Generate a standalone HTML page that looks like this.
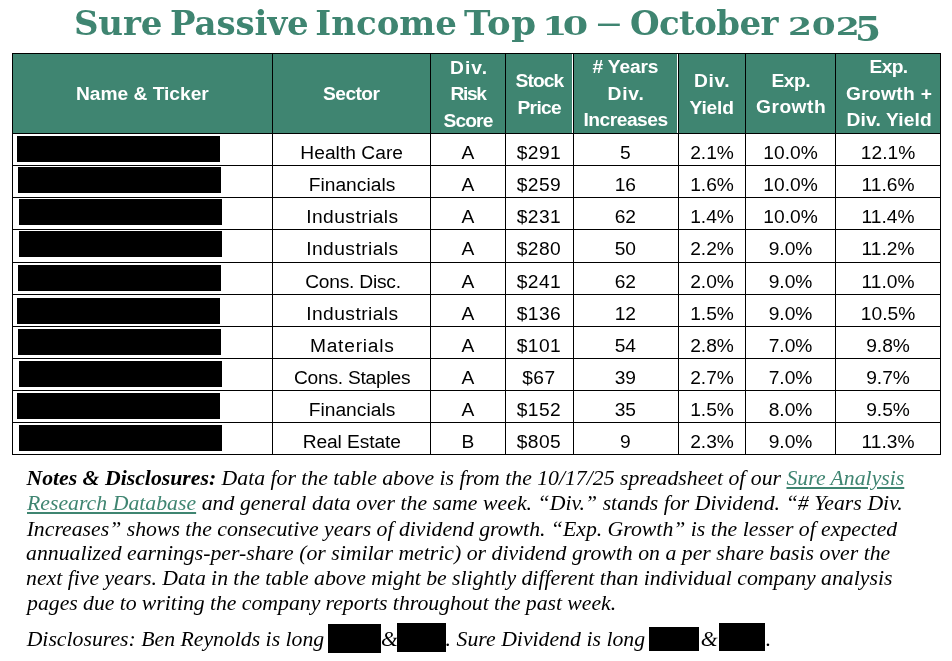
<!DOCTYPE html>
<html lang="en"><head><meta charset="utf-8"><title>Sure Passive Income Top 10</title>
<style>
html,body{margin:0;padding:0;background:#fff;}
body{width:952px;height:661px;position:relative;overflow:hidden;font-family:"Liberation Sans",sans-serif;color:#000;}
#page{position:absolute;left:0;top:0;width:952px;height:661px;overflow:hidden;will-change:transform;}
.abs{position:absolute;}
.ln{position:absolute;background:#000;}
.tw{position:absolute;white-space:nowrap;color:#3f8571;font-family:"DejaVu Serif","Liberation Serif",serif;font-weight:bold;font-size:34.0px;line-height:40px;height:40px;}
.th{position:absolute;color:#fff;font-weight:bold;font-size:19.2px;line-height:26px;height:26px;white-space:nowrap;}
.td{position:absolute;font-size:19.2px;line-height:32px;height:32px;text-align:center;white-space:nowrap;}
.bar{position:absolute;background:#000;width:203px;height:26px;}
.nl{position:absolute;left:27px;font-family:"Liberation Serif",serif;font-style:italic;font-size:21.75px;line-height:24.87px;height:24.87px;white-space:nowrap;}
.nl a{color:#3f8571;text-decoration:underline;}
.rb{position:absolute;background:#000;}
.g{display:inline-block;}

</style></head><body><div id="page">
<div class="tw" id="t0" style="left:74.00px;top:2.85px;letter-spacing:-0.180px;">Sure</div>
<div class="tw" id="t1" style="left:170.00px;top:2.85px;letter-spacing:-0.090px;">Passive</div>
<div class="tw" id="t2" style="left:315.30px;top:2.85px;letter-spacing:0.018px;">Income</div>
<div class="tw" id="t3" style="left:464.10px;top:2.85px;letter-spacing:0.600px;transform-origin:0 31.95px;transform:translateY(0.00px) scale(1.0463,1.0000);">Top</div>
<div class="tw" id="t4" style="left:542.30px;top:2.85px;letter-spacing:-4.320px;transform-origin:0 31.95px;transform:translateY(0.00px) scale(1.0745,0.7500);">10</div>
<div class="tw" id="t5" style="left:595.00px;top:2.85px;letter-spacing:0.000px;transform-origin:0 31.95px;transform:translateY(-5.20px) scale(1.6344,0.6200);">–</div>
<div class="tw" id="t6" style="left:630.00px;top:2.85px;letter-spacing:-0.600px;">October</div>
<div class="tw" id="t7" style="left:787.60px;top:2.85px;letter-spacing:-0.180px;transform-origin:0 31.95px;transform:translateY(0.00px) scale(1.0147,0.7300);">202</div>
<div class="tw" id="t8" style="left:855.20px;top:2.85px;letter-spacing:0.000px;transform-origin:0 31.95px;transform:translateY(6.00px) scale(1.1033,1.0000);">5</div>
<div class="abs" style="left:12px;top:53px;width:929px;height:81px;background:#3f8571;"></div>
<div class="ln" style="left:12px;top:53px;width:929px;height:1px;"></div>
<div class="ln" style="left:12px;top:133px;width:929px;height:1px;"></div>
<div class="ln" style="left:12px;top:165px;width:929px;height:1px;"></div>
<div class="ln" style="left:12px;top:197px;width:929px;height:1px;"></div>
<div class="ln" style="left:12px;top:229px;width:929px;height:1px;"></div>
<div class="ln" style="left:12px;top:262px;width:929px;height:1px;"></div>
<div class="ln" style="left:12px;top:294px;width:929px;height:1px;"></div>
<div class="ln" style="left:12px;top:326px;width:929px;height:1px;"></div>
<div class="ln" style="left:12px;top:358px;width:929px;height:1px;"></div>
<div class="ln" style="left:12px;top:390px;width:929px;height:1px;"></div>
<div class="ln" style="left:12px;top:422px;width:929px;height:1px;"></div>
<div class="ln" style="left:12px;top:454px;width:929px;height:1px;"></div>
<div class="ln" style="left:12px;top:53px;width:1px;height:402px;"></div>
<div class="ln" style="left:272px;top:53px;width:1px;height:402px;"></div>
<div class="ln" style="left:430px;top:53px;width:1px;height:402px;"></div>
<div class="ln" style="left:505px;top:53px;width:1px;height:402px;"></div>
<div class="ln" style="left:573px;top:53px;width:1px;height:402px;"></div>
<div class="ln" style="left:678px;top:53px;width:1px;height:402px;"></div>
<div class="ln" style="left:745px;top:53px;width:1px;height:402px;"></div>
<div class="ln" style="left:835px;top:53px;width:1px;height:402px;"></div>
<div class="ln" style="left:940px;top:53px;width:1px;height:402px;"></div>
<div class="abs" style="left:572px;top:54px;width:1px;height:79px;background:#fff;"></div>
<div class="abs" style="left:677px;top:54px;width:1px;height:79px;background:#fff;"></div>
<div class="th" id="h0_0" style="left:76.00px;top:81.35px;letter-spacing:-0.015px;">Name &amp; Ticker</div>
<div class="th" id="h1_0" style="left:323.00px;top:81.35px;letter-spacing:-0.540px;">Sector</div>
<div class="th" id="h2_0" style="left:450.00px;top:55.15px;letter-spacing:1.080px;">Div.</div>
<div class="th" id="h2_1" style="left:450.50px;top:80.65px;letter-spacing:-1.380px;">Risk</div>
<div class="th" id="h2_2" style="left:443.50px;top:108.05px;letter-spacing:-0.855px;">Score</div>
<div class="th" id="h3_0" style="left:515.50px;top:68.05px;letter-spacing:-0.900px;">Stock</div>
<div class="th" id="h3_1" style="left:517.50px;top:95.05px;letter-spacing:-0.675px;">Price</div>
<div class="th" id="h4_0" style="left:592.50px;top:53.85px;letter-spacing:-0.150px;"># Years</div>
<div class="th" id="h4_1" style="left:607.50px;top:80.75px;letter-spacing:0.840px;">Div.</div>
<div class="th" id="h4_2" style="left:583.50px;top:106.75px;letter-spacing:-0.495px;">Increases</div>
<div class="th" id="h5_0" style="left:694.00px;top:68.15px;letter-spacing:0.600px;">Div.</div>
<div class="th" id="h5_1" style="left:689.50px;top:94.95px;letter-spacing:-0.180px;">Yield</div>
<div class="th" id="h6_0" style="left:771.50px;top:67.95px;letter-spacing:-0.480px;">Exp.</div>
<div class="th" id="h6_1" style="left:756.00px;top:93.65px;letter-spacing:0.504px;">Growth</div>
<div class="th" id="h7_0" style="left:869.50px;top:53.85px;letter-spacing:-0.660px;">Exp.</div>
<div class="th" id="h7_1" style="left:846.00px;top:80.75px;letter-spacing:0.309px;">Growth +</div>
<div class="th" id="h7_2" style="left:846.50px;top:106.55px;letter-spacing:0.160px;">Div. Yield</div>
<div class="bar" style="left:17px;top:136px;"></div>
<div class="td" id="c0_0" style="left:273.20px;width:157px;top:137.35px;letter-spacing:0.036px;">Health Care</div>
<div class="td" id="c0_1" style="left:431.00px;width:74px;top:137.35px;letter-spacing:0.000px;">A</div>
<div class="td" id="c0_2" style="left:505.40px;width:67px;top:137.35px;letter-spacing:0.400px;">$291</div>
<div class="td" id="c0_3" style="left:573.30px;width:104px;top:137.35px;letter-spacing:0.000px;">5</div>
<div class="td" id="c0_4" style="left:679.00px;width:66px;top:137.35px;letter-spacing:0.000px;">2.1%</div>
<div class="td" id="c0_5" style="left:746.00px;width:89px;top:137.35px;letter-spacing:0.000px;">10.0%</div>
<div class="td" id="c0_6" style="left:836.00px;width:104px;top:137.35px;letter-spacing:0.000px;">12.1%</div>
<div class="bar" style="left:18px;top:167px;"></div>
<div class="td" id="c1_0" style="left:273.50px;width:157px;top:169.35px;letter-spacing:0.020px;">Financials</div>
<div class="td" id="c1_1" style="left:431.00px;width:74px;top:169.35px;letter-spacing:0.000px;">A</div>
<div class="td" id="c1_2" style="left:505.40px;width:67px;top:169.35px;letter-spacing:0.400px;">$259</div>
<div class="td" id="c1_3" style="left:573.30px;width:104px;top:169.35px;letter-spacing:0.000px;">16</div>
<div class="td" id="c1_4" style="left:679.00px;width:66px;top:169.35px;letter-spacing:0.000px;">1.6%</div>
<div class="td" id="c1_5" style="left:746.00px;width:89px;top:169.35px;letter-spacing:0.000px;">10.0%</div>
<div class="td" id="c1_6" style="left:836.00px;width:104px;top:169.35px;letter-spacing:0.000px;">11.6%</div>
<div class="bar" style="left:19px;top:199px;"></div>
<div class="td" id="c2_0" style="left:273.90px;width:157px;top:201.35px;letter-spacing:0.450px;">Industrials</div>
<div class="td" id="c2_1" style="left:431.00px;width:74px;top:201.35px;letter-spacing:0.000px;">A</div>
<div class="td" id="c2_2" style="left:505.40px;width:67px;top:201.35px;letter-spacing:0.400px;">$231</div>
<div class="td" id="c2_3" style="left:573.30px;width:104px;top:201.35px;letter-spacing:0.000px;">62</div>
<div class="td" id="c2_4" style="left:679.00px;width:66px;top:201.35px;letter-spacing:0.000px;">1.4%</div>
<div class="td" id="c2_5" style="left:746.00px;width:89px;top:201.35px;letter-spacing:0.000px;">10.0%</div>
<div class="td" id="c2_6" style="left:836.00px;width:104px;top:201.35px;letter-spacing:0.000px;">11.4%</div>
<div class="bar" style="left:19px;top:231px;"></div>
<div class="td" id="c3_0" style="left:273.90px;width:157px;top:233.35px;letter-spacing:0.450px;">Industrials</div>
<div class="td" id="c3_1" style="left:431.00px;width:74px;top:233.35px;letter-spacing:0.000px;">A</div>
<div class="td" id="c3_2" style="left:505.40px;width:67px;top:233.35px;letter-spacing:0.400px;">$280</div>
<div class="td" id="c3_3" style="left:573.30px;width:104px;top:233.35px;letter-spacing:0.000px;">50</div>
<div class="td" id="c3_4" style="left:679.00px;width:66px;top:233.35px;letter-spacing:0.000px;">2.2%</div>
<div class="td" id="c3_5" style="left:746.00px;width:89px;top:233.35px;letter-spacing:0.000px;">9.0%</div>
<div class="td" id="c3_6" style="left:836.00px;width:104px;top:233.35px;letter-spacing:0.000px;">11.2%</div>
<div class="bar" style="left:18px;top:265px;"></div>
<div class="td" id="c4_0" style="left:274.50px;width:157px;top:266.35px;letter-spacing:-0.234px;">Cons. Disc.</div>
<div class="td" id="c4_1" style="left:431.00px;width:74px;top:266.35px;letter-spacing:0.000px;">A</div>
<div class="td" id="c4_2" style="left:505.40px;width:67px;top:266.35px;letter-spacing:0.400px;">$241</div>
<div class="td" id="c4_3" style="left:573.30px;width:104px;top:266.35px;letter-spacing:0.000px;">62</div>
<div class="td" id="c4_4" style="left:679.00px;width:66px;top:266.35px;letter-spacing:0.000px;">2.0%</div>
<div class="td" id="c4_5" style="left:746.00px;width:89px;top:266.35px;letter-spacing:0.000px;">9.0%</div>
<div class="td" id="c4_6" style="left:836.00px;width:104px;top:266.35px;letter-spacing:0.000px;">11.0%</div>
<div class="bar" style="left:17px;top:298px;"></div>
<div class="td" id="c5_0" style="left:273.90px;width:157px;top:298.35px;letter-spacing:0.450px;">Industrials</div>
<div class="td" id="c5_1" style="left:431.00px;width:74px;top:298.35px;letter-spacing:0.000px;">A</div>
<div class="td" id="c5_2" style="left:505.40px;width:67px;top:298.35px;letter-spacing:0.400px;">$136</div>
<div class="td" id="c5_3" style="left:573.30px;width:104px;top:298.35px;letter-spacing:0.000px;">12</div>
<div class="td" id="c5_4" style="left:679.00px;width:66px;top:298.35px;letter-spacing:0.000px;">1.5%</div>
<div class="td" id="c5_5" style="left:746.00px;width:89px;top:298.35px;letter-spacing:0.000px;">9.0%</div>
<div class="td" id="c5_6" style="left:836.00px;width:104px;top:298.35px;letter-spacing:0.000px;">10.5%</div>
<div class="bar" style="left:18px;top:329px;"></div>
<div class="td" id="c6_0" style="left:273.80px;width:157px;top:330.35px;letter-spacing:0.765px;">Materials</div>
<div class="td" id="c6_1" style="left:431.00px;width:74px;top:330.35px;letter-spacing:0.000px;">A</div>
<div class="td" id="c6_2" style="left:505.40px;width:67px;top:330.35px;letter-spacing:0.400px;">$101</div>
<div class="td" id="c6_3" style="left:573.30px;width:104px;top:330.35px;letter-spacing:0.000px;">54</div>
<div class="td" id="c6_4" style="left:679.00px;width:66px;top:330.35px;letter-spacing:0.000px;">2.8%</div>
<div class="td" id="c6_5" style="left:746.00px;width:89px;top:330.35px;letter-spacing:0.000px;">7.0%</div>
<div class="td" id="c6_6" style="left:836.00px;width:104px;top:330.35px;letter-spacing:0.000px;">9.8%</div>
<div class="bar" style="left:19px;top:361px;"></div>
<div class="td" id="c7_0" style="left:273.60px;width:157px;top:362.35px;letter-spacing:-0.240px;">Cons. Staples</div>
<div class="td" id="c7_1" style="left:431.00px;width:74px;top:362.35px;letter-spacing:0.000px;">A</div>
<div class="td" id="c7_2" style="left:505.40px;width:67px;top:362.35px;letter-spacing:0.400px;">$67</div>
<div class="td" id="c7_3" style="left:573.30px;width:104px;top:362.35px;letter-spacing:0.000px;">39</div>
<div class="td" id="c7_4" style="left:679.00px;width:66px;top:362.35px;letter-spacing:0.000px;">2.7%</div>
<div class="td" id="c7_5" style="left:746.00px;width:89px;top:362.35px;letter-spacing:0.000px;">7.0%</div>
<div class="td" id="c7_6" style="left:836.00px;width:104px;top:362.35px;letter-spacing:0.000px;">9.7%</div>
<div class="bar" style="left:17px;top:393px;"></div>
<div class="td" id="c8_0" style="left:273.50px;width:157px;top:394.35px;letter-spacing:0.020px;">Financials</div>
<div class="td" id="c8_1" style="left:431.00px;width:74px;top:394.35px;letter-spacing:0.000px;">A</div>
<div class="td" id="c8_2" style="left:505.40px;width:67px;top:394.35px;letter-spacing:0.400px;">$152</div>
<div class="td" id="c8_3" style="left:573.30px;width:104px;top:394.35px;letter-spacing:0.000px;">35</div>
<div class="td" id="c8_4" style="left:679.00px;width:66px;top:394.35px;letter-spacing:0.000px;">1.5%</div>
<div class="td" id="c8_5" style="left:746.00px;width:89px;top:394.35px;letter-spacing:0.000px;">8.0%</div>
<div class="td" id="c8_6" style="left:836.00px;width:104px;top:394.35px;letter-spacing:0.000px;">9.5%</div>
<div class="bar" style="left:19px;top:425px;"></div>
<div class="td" id="c9_0" style="left:273.30px;width:157px;top:426.35px;letter-spacing:-0.090px;">Real Estate</div>
<div class="td" id="c9_1" style="left:431.00px;width:74px;top:426.35px;letter-spacing:0.000px;">B</div>
<div class="td" id="c9_2" style="left:505.40px;width:67px;top:426.35px;letter-spacing:0.400px;">$805</div>
<div class="td" id="c9_3" style="left:573.30px;width:104px;top:426.35px;letter-spacing:0.000px;">9</div>
<div class="td" id="c9_4" style="left:679.00px;width:66px;top:426.35px;letter-spacing:0.000px;">2.3%</div>
<div class="td" id="c9_5" style="left:746.00px;width:89px;top:426.35px;letter-spacing:0.000px;">9.0%</div>
<div class="td" id="c9_6" style="left:836.00px;width:104px;top:426.35px;letter-spacing:0.000px;">11.3%</div>
<div class="nl" id="n0" style="left:26.46px;top:466.42px;word-spacing:-0.012px;letter-spacing:0.000px;"><b>Notes &amp; Disclosures:</b> Data for the table above is from the 10/17/25 spreadsheet of our <a>Sure Analysis</a></div>
<div class="nl" id="n1" style="left:27.00px;top:491.32px;word-spacing:0.180px;letter-spacing:0.000px;"><a>Research Database</a> and general data over the same week. “Div.” stands for Dividend. “# Years Div.</div>
<div class="nl" id="n2" style="left:26.64px;top:516.62px;word-spacing:-0.036px;letter-spacing:0.000px;">Increases” shows the consecutive years of dividend growth. “Exp. Growth” is the lesser of expected</div>
<div class="nl" id="n3" style="left:26.10px;top:541.02px;word-spacing:0.048px;letter-spacing:0.000px;">annualized earnings-per-share (or similar metric) or dividend growth on a per share basis over the</div>
<div class="nl" id="n4" style="left:26.10px;top:565.92px;word-spacing:-0.101px;letter-spacing:0.000px;">next five years. Data in the table above might be slightly different than individual company analysis</div>
<div class="nl" id="n5" style="left:27.00px;top:590.82px;word-spacing:-0.180px;letter-spacing:0.000px;">pages due to writing the company reports throughout the past week.</div>
<div class="nl" id="n6a" style="left:26.64px;top:627.22px;word-spacing:0.000px;letter-spacing:0.000px;">Disclosures: Ben Reynolds is long</div>
<div class="nl" id="n6b" style="left:380.98px;top:627.22px;word-spacing:0.000px;letter-spacing:0.000px;">&amp;</div>
<div class="nl" id="n6c" style="left:445.60px;top:627.22px;word-spacing:0.090px;letter-spacing:0.000px;">. Sure Dividend is long</div>
<div class="nl" id="n6d" style="left:700.84px;top:627.22px;word-spacing:0.000px;letter-spacing:0.000px;">&amp;</div>
<div class="nl" id="n6e" style="left:765.86px;top:627.22px;word-spacing:0.000px;letter-spacing:0.000px;">.</div>
<div class="rb" style="left:328px;top:624px;width:53px;height:28.5px;"></div>
<div class="rb" style="left:397px;top:623px;width:49px;height:28.5px;"></div>
<div class="rb" style="left:649px;top:627px;width:50px;height:23.5px;"></div>
<div class="rb" style="left:719px;top:623px;width:46px;height:27.5px;"></div>
</div></body></html>
